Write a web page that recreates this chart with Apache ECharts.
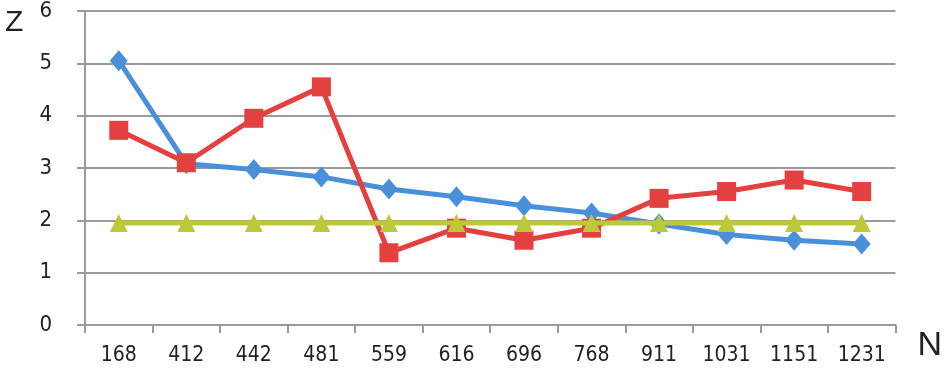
<!DOCTYPE html>
<html><head><meta charset="utf-8">
<script src="https://cdn.jsdelivr.net/npm/echarts@6/dist/echarts.min.js"></script>
<style>html,body{margin:0;padding:0;background:#fff}#c{width:945px;height:379px}</style>
</head><body><div id="c"></div>
<script>
const categories = ['168','412','442','481','559','616','696','768','911','1031','1151','1231'];
const blueValues = [5.05,3.08,2.97,2.83,2.6,2.45,2.28,2.14,1.93,1.73,1.62,1.55];
const redValues = [3.72,3.1,3.95,4.55,1.38,1.85,1.62,1.85,2.42,2.55,2.77,2.55];
const greenValues = [1.95,1.95,1.95,1.95,1.95,1.95,1.95,1.95,1.95,1.95,1.95,1.95];
const yTicks = [0,1,2,3,4,5,6];

const chart = echarts.init(document.getElementById('c'));
const grey = '#9a9a9a';
chart.setOption({
  animation:false,
  backgroundColor:'#fff',
  grid:{left:85,right:48,top:11,bottom:54},
  xAxis:{type:'category',data:categories,boundaryGap:true,
    axisLine:{lineStyle:{color:grey,width:2}},
    axisTick:{show:true,length:8,lineStyle:{color:grey,width:2},alignWithLabel:false},
    axisLabel:{color:'#222',fontSize:21,fontFamily:'DejaVu Sans Condensed, Liberation Sans Narrow, sans-serif',margin:20},
    name:'N',nameLocation:'end',nameGap:22,nameTextStyle:{fontSize:34,color:'#222',fontFamily:'Liberation Sans, sans-serif',verticalAlign:'top',padding:[4,0,0,0]}},
  yAxis:{type:'value',min:0,max:6,interval:1,
    axisLine:{show:true,lineStyle:{color:grey,width:2}},
    axisTick:{show:true,length:8,lineStyle:{color:grey,width:2}},
    splitLine:{show:true,lineStyle:{color:grey,width:2}},
    axisLabel:{color:'#222',fontSize:22,fontFamily:'DejaVu Sans Condensed, sans-serif',margin:33},
    name:'Z',nameLocation:'end',nameGap:0,nameTextStyle:{fontSize:30,color:'#222',fontFamily:'Liberation Sans, sans-serif',align:'left',verticalAlign:'top',padding:[-3,0,0,-80]}},
  series:[
    {type:'line',data:blueValues,symbol:'diamond',symbolSize:[18,21],color:'#4A90D9',lineStyle:{width:5,color:'#4A90D9'},itemStyle:{color:'#4A90D9'},z:3},
    {type:'line',data:redValues,symbol:'rect',symbolSize:19,color:'#E2413F',lineStyle:{width:5,color:'#E2413F'},itemStyle:{color:'#E2413F'},z:4},
    {type:'line',data:greenValues,symbol:'triangle',symbolSize:18,color:'#BCC93B',lineStyle:{width:5,color:'#BCC93B'},itemStyle:{color:'#BCC93B'},z:5}
  ]
});
</script></body></html>
